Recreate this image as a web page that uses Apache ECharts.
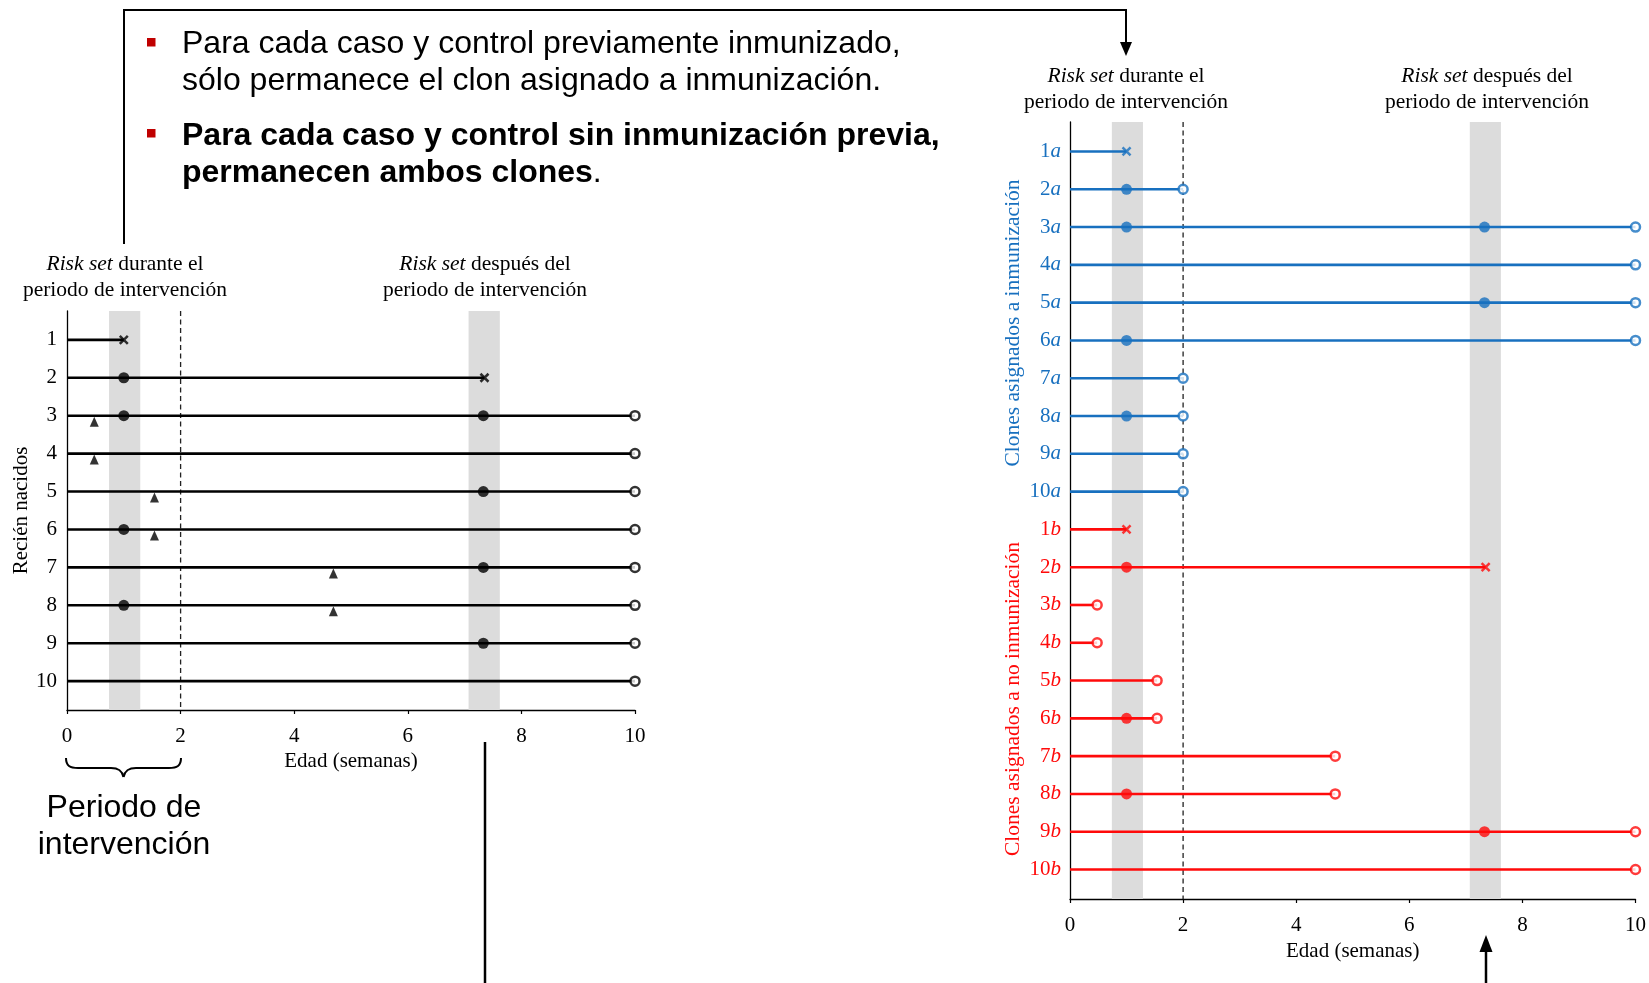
<!DOCTYPE html>
<html>
<head>
<meta charset="utf-8">
<script src="https://cdn.jsdelivr.net/npm/echarts@6/dist/echarts.min.js"></script>
<style>
  html, body { margin: 0; padding: 0; background: #fff; }
  #main { width: 1649px; height: 983px; }
</style>
</head>
<body>
<div id="main"></div>
<script>
// ---- Left panel: newborns (cases and controls) ----
const newbornRows = [1, 2, 3, 4, 5, 6, 7, 8, 9, 10];
const newbornFollowUpEnd = [1, 7.35, 10, 10, 10, 10, 10, 10, 10, 10];
const newbornEndMark = ['x', 'x', 'o', 'o', 'o', 'o', 'o', 'o', 'o', 'o'];
// risk-set membership points: [age in weeks, row]
const newbornRiskSetAt = [[1, 2], [1, 3], [7.33, 3], [7.33, 5], [1, 6], [7.33, 7], [1, 8], [7.33, 9]];
// immunization ages: [age in weeks, row]
const newbornImmunizedAt = [[0.48, 3], [0.48, 4], [1.54, 5], [1.54, 6], [4.69, 7], [4.69, 8]];

// ---- Right panel: clones ----
const cloneLabels = ['1a', '2a', '3a', '4a', '5a', '6a', '7a', '8a', '9a', '10a',
                     '1b', '2b', '3b', '4b', '5b', '6b', '7b', '8b', '9b', '10b'];
const cloneFollowUpEnd = [1, 2, 10, 10, 10, 10, 2, 2, 2, 2,
                          1, 7.35, 0.48, 0.48, 1.54, 1.54, 4.69, 4.69, 10, 10];
const cloneEndMark = ['x', 'o', 'o', 'o', 'o', 'o', 'o', 'o', 'o', 'o',
                      'x', 'x', 'o', 'o', 'o', 'o', 'o', 'o', 'o', 'o'];
const cloneRiskSetAt = [[1, 2], [1, 3], [7.33, 3], [7.33, 5], [1, 6], [1, 8],
                        [1, 12], [1, 16], [1, 18], [7.33, 19]];

// ---- Shared ----
const interventionEnd = 2;                 // dashed line: end of intervention period
const riskSetBands = [[0.74, 1.29], [7.07, 7.62]];

const SERIF = '"Liberation Serif", "Times New Roman", serif';
const SANS = '"Liberation Sans", Arial, sans-serif';
const BLUE = '#1870BF';
const RED = '#FF0A0A';
const INK = '#000000';
const FS = 21;                             // serif text size
const CROSS = 'path://M0,0L10,10M10,0L0,10';

const chart = echarts.init(document.getElementById('main'), null, { renderer: 'canvas' });

function bandSeries(gi) {
  return {
    type: 'custom', xAxisIndex: gi, yAxisIndex: gi, z: 1, silent: true,
    data: riskSetBands,
    renderItem(params, api) {
      const cs = params.coordSys;
      const a = api.coord([api.value(0), 1]);
      const b = api.coord([api.value(1), 1]);
      return { type: 'rect', shape: { x: a[0], y: cs.y, width: b[0] - a[0], height: cs.height },
               style: { fill: '#DCDCDC' } };
    }
  };
}

function dashedSeries(gi) {
  return {
    type: 'custom', xAxisIndex: gi, yAxisIndex: gi, z: 2, silent: true,
    data: [[interventionEnd, 1]],
    renderItem(params, api) {
      const cs = params.coordSys;
      const p = api.coord([api.value(0), 1]);
      return { type: 'line', shape: { x1: p[0], y1: cs.y, x2: p[0], y2: cs.y + cs.height },
               style: { stroke: '#222', lineWidth: 1.3, lineDash: [5, 3.5] } };
    }
  };
}

function segmentSeries(gi, data, color) {
  return {
    type: 'custom', xAxisIndex: gi, yAxisIndex: gi, z: 3, silent: true,
    data: data,
    renderItem(params, api) {
      const row = api.value(1);
      const a = api.coord([0, row]);
      const b = api.coord([api.value(0), row]);
      return { type: 'line', shape: { x1: a[0], y1: a[1], x2: b[0], y2: b[1] },
               style: { stroke: color, lineWidth: 2.6 } };
    }
  };
}

function markerSeries(gi, data, kind, color) {
  const s = { type: 'scatter', xAxisIndex: gi, yAxisIndex: gi, z: 5, silent: true, data: data };
  if (kind === 'dot') {
    s.symbol = 'circle'; s.symbolSize = 11; s.itemStyle = { color: color };
  } else if (kind === 'open') {
    s.symbol = 'circle'; s.symbolSize = 9; s.itemStyle = { color: '#fff', borderColor: color, borderWidth: 2.5 };
  } else if (kind === 'cross') {
    s.symbol = CROSS; s.symbolSize = 8; s.itemStyle = { color: 'rgba(0,0,0,0)', borderColor: color, borderWidth: 2.5 };
  } else if (kind === 'tri') {
    s.symbol = 'triangle'; s.symbolSize = [9, 10]; s.symbolOffset = [0, 6]; s.itemStyle = { color: color };
  }
  return s;
}

// data prepared from the arrays above
const newbornSegments = newbornRows.map((r, i) => [newbornFollowUpEnd[i], r]);
const newbornCross = newbornRows.filter((r, i) => newbornEndMark[i] === 'x').map(r => [newbornFollowUpEnd[r - 1], r]);
const newbornOpen = newbornRows.filter((r, i) => newbornEndMark[i] === 'o').map(r => [newbornFollowUpEnd[r - 1], r]);

const cloneRows = cloneLabels.map((l, i) => i + 1);
const groupA = cloneRows.filter(r => r <= 10);
const groupB = cloneRows.filter(r => r > 10);
const seg = rows => rows.map(r => [cloneFollowUpEnd[r - 1], r]);
const ends = (rows, m) => rows.filter(r => cloneEndMark[r - 1] === m).map(r => [cloneFollowUpEnd[r - 1], r]);
const dotsIn = rows => cloneRiskSetAt.filter(p => rows.includes(p[1]));

const xAxisBase = {
  type: 'value', min: 0, max: 10, interval: 2,
  name: 'Edad (semanas)', nameLocation: 'middle', nameGap: 41,
  nameTextStyle: { fontFamily: SERIF, fontSize: FS, color: INK },
  axisLine: { onZero: false, lineStyle: { color: '#000', width: 1.3 } },
  axisTick: { show: true, inside: false, length: 4, lineStyle: { color: '#000', width: 1.2 } },
  splitLine: { show: false },
  axisLabel: { fontFamily: SERIF, fontSize: FS, color: INK, margin: 16 }
};

const richRight = {
  nA: { color: BLUE, fontFamily: SERIF, fontSize: FS },
  sA: { color: BLUE, fontFamily: SERIF, fontSize: FS, fontStyle: 'italic' },
  nB: { color: RED, fontFamily: SERIF, fontSize: FS },
  sB: { color: RED, fontFamily: SERIF, fontSize: FS, fontStyle: 'italic' }
};

function header(cx, cy, rest) {
  return [
    { type: 'text', x: cx, y: cy,
      style: { text: '{i|Risk set}{r|' + rest + '}', align: 'center', verticalAlign: 'middle',
               rich: { i: { fontFamily: SERIF, fontSize: 21.5, fontStyle: 'italic', fill: INK },
                       r: { fontFamily: SERIF, fontSize: 21.5, fill: INK } } } },
    { type: 'text', x: cx, y: cy + 26,
      style: { text: 'periodo de intervención', align: 'center', verticalAlign: 'middle',
               font: '21.5px ' + SERIF, fill: INK } }
  ];
}

function curve(x1, y1, cx1, cy1, cx2, cy2, x2, y2) {
  return { type: 'bezierCurve', shape: { x1: x1, y1: y1, cpx1: cx1, cpy1: cy1, cpx2: cx2, cpy2: cy2, x2: x2, y2: y2 },
           style: { stroke: '#000', lineWidth: 2, fill: null } };
}

const graphics = [
  // bullet notes
  { type: 'rect', shape: { x: 147, y: 38, width: 8.5, height: 8.5 }, style: { fill: '#C00000' } },
  { type: 'rect', shape: { x: 147, y: 129, width: 8.5, height: 8.5 }, style: { fill: '#C00000' } },
  { type: 'text', x: 182, y: 44, style: { text: 'Para cada caso y control previamente inmunizado,', verticalAlign: 'middle', font: '32px ' + SANS, fill: INK } },
  { type: 'text', x: 182, y: 81, style: { text: 'sólo permanece el clon asignado a inmunización.', verticalAlign: 'middle', font: '32px ' + SANS, fill: INK } },
  { type: 'text', x: 182, y: 136, style: { text: 'Para cada caso y control sin inmunización previa,', verticalAlign: 'middle', font: 'bold 32px ' + SANS, fill: INK } },
  { type: 'text', x: 182, y: 173, style: { text: '{b|permanecen ambos clones}{n|.}', verticalAlign: 'middle',
      rich: { b: { fontFamily: SANS, fontSize: 32, fontWeight: 'bold', fill: INK }, n: { fontFamily: SANS, fontSize: 32, fill: INK } } } },
  // connector from the left risk set to the clone panel
  { type: 'polyline', shape: { points: [[124, 244], [124, 10], [1126, 10], [1126, 44]] }, style: { stroke: '#000', lineWidth: 2, fill: null } },
  { type: 'polygon', shape: { points: [[1120, 42], [1132, 42], [1126, 56]] }, style: { fill: '#000' } },
  { type: 'line', shape: { x1: 485, y1: 742, x2: 485, y2: 983 }, style: { stroke: '#000', lineWidth: 2.5 } },
  { type: 'line', shape: { x1: 1486, y1: 948, x2: 1486, y2: 983 }, style: { stroke: '#000', lineWidth: 2.5 } },
  { type: 'polygon', shape: { points: [[1479.5, 952], [1492.5, 952], [1486, 935]] }, style: { fill: '#000' } },
  // brace marking the intervention period
  curve(66, 758, 66, 766, 70, 768, 78, 768),
  { type: 'line', shape: { x1: 78, y1: 768, x2: 111, y2: 768 }, style: { stroke: '#000', lineWidth: 2 } },
  curve(111, 768, 118, 768, 122, 770, 123.5, 777),
  curve(123.5, 777, 125, 770, 129, 768, 136, 768),
  { type: 'line', shape: { x1: 136, y1: 768, x2: 169, y2: 768 }, style: { stroke: '#000', lineWidth: 2 } },
  curve(169, 768, 177, 768, 181, 766, 181, 758),
  { type: 'text', x: 124, y: 808, style: { text: 'Periodo de', align: 'center', verticalAlign: 'middle', font: '32px ' + SANS, fill: INK } },
  { type: 'text', x: 124, y: 845, style: { text: 'intervención', align: 'center', verticalAlign: 'middle', font: '32px ' + SANS, fill: INK } },
  // rotated titles of the clone panel
  { type: 'text', x: 1013, y: 323, rotation: Math.PI / 2,
    style: { text: 'Clones asignados a inmunización', align: 'center', verticalAlign: 'middle', font: '21.5px ' + SERIF, fill: BLUE } },
  { type: 'text', x: 1013, y: 699, rotation: Math.PI / 2,
    style: { text: 'Clones asignados a no inmunización', align: 'center', verticalAlign: 'middle', font: '21.5px ' + SERIF, fill: RED } }
].concat(header(125, 264, ' durante el'), header(485, 264, ' después del'),
         header(1126, 76, ' durante el'), header(1487, 76, ' después del'));

chart.setOption({
  animation: false,
  backgroundColor: '#fff',
  grid: [
    { left: 67, top: 311, width: 568, height: 399 },
    { left: 1070, top: 122, width: 567, height: 777 }
  ],
  xAxis: [
    Object.assign({}, xAxisBase, { gridIndex: 0 }),
    Object.assign({}, xAxisBase, { gridIndex: 1 })
  ],
  yAxis: [
    { gridIndex: 0, type: 'value', inverse: true, min: 0.24, max: 10.76,
      name: 'Recién nacidos', nameLocation: 'middle', nameGap: 34, nameRotate: 90,
      nameTextStyle: { fontFamily: SERIF, fontSize: 21, color: INK },
      axisLine: { show: true, onZero: false, lineStyle: { color: '#000', width: 1.3 } },
      axisTick: { show: false }, splitLine: { show: false },
      axisLabel: { customValues: newbornRows, formatter: v => String(Math.round(v)),
                   fontFamily: SERIF, fontSize: FS, color: INK, margin: 10 } },
    { gridIndex: 1, type: 'value', inverse: true, min: 0.22, max: 20.78,
      axisLine: { show: true, onZero: false, lineStyle: { color: '#000', width: 1.3 } },
      axisTick: { show: false }, splitLine: { show: false },
      axisLabel: { customValues: cloneRows, margin: 9, rich: richRight,
                   formatter: v => {
                     const i = Math.round(v) - 1;
                     const lab = cloneLabels[i];
                     const g = i < 10 ? 'A' : 'B';
                     return '{n' + g + '|' + lab.slice(0, -1) + '}{s' + g + '|' + lab.slice(-1) + '}';
                   } } }
  ],
  series: [
    bandSeries(0), dashedSeries(0),
    segmentSeries(0, newbornSegments, '#000'),
    markerSeries(0, newbornRiskSetAt, 'dot', '#000'),
    markerSeries(0, newbornOpen, 'open', '#000'),
    markerSeries(0, newbornCross, 'cross', '#000'),
    markerSeries(0, newbornImmunizedAt, 'tri', '#000'),

    bandSeries(1), dashedSeries(1),
    segmentSeries(1, seg(groupA), BLUE),
    segmentSeries(1, seg(groupB), RED),
    markerSeries(1, dotsIn(groupA), 'dot', BLUE),
    markerSeries(1, dotsIn(groupB), 'dot', RED),
    markerSeries(1, ends(groupA, 'o'), 'open', BLUE),
    markerSeries(1, ends(groupB, 'o'), 'open', RED),
    markerSeries(1, ends(groupA, 'x'), 'cross', BLUE),
    markerSeries(1, ends(groupB, 'x'), 'cross', RED)
  ],
  graphic: graphics
});
</script>
</body>
</html>
